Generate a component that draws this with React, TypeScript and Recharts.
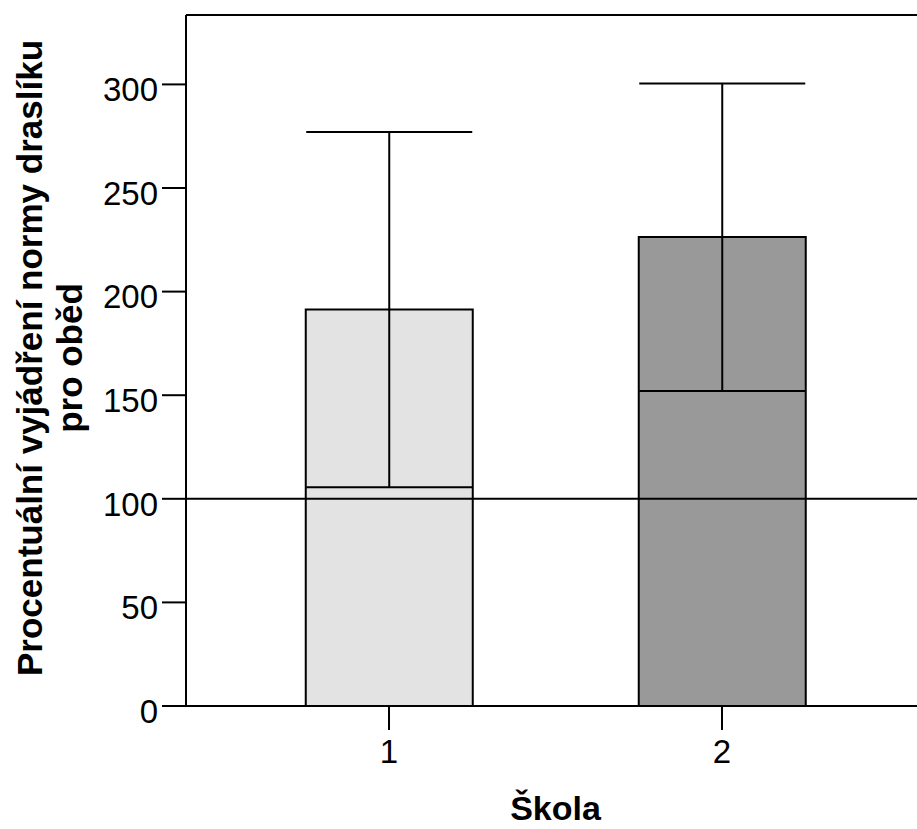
import React from 'react';
import {
  BarChart,
  Bar,
  XAxis,
  YAxis,
  ErrorBar,
  ReferenceLine,
  Cell,
  Label,
} from 'recharts';

// Values
const schools = ['1', '2'];
const means = [191.4, 226.4];
const ciLow = [105.6, 152];
const ciHigh = [277, 300.4];
const barColors = ['#e3e3e3', '#999999'];
const yTicks = [0, 50, 100, 150, 200, 250, 300];
const yMax = 333.5;
const normValue = 100;

const data = schools.map((school, i) => ({
  school,
  mean: means[i],
  err: [means[i] - ciLow[i], ciHigh[i] - means[i]],
}));

const FONT = '"Liberation Sans", Arial, Helvetica, sans-serif';

const YTitle = () => (
  <g transform="translate(0,358) rotate(-90)">
    <text
      x={0}
      y={42}
      textAnchor="middle"
      fontFamily={FONT}
      fontWeight="bold"
      fontSize={35}
      fill="#000"
    >
      Procentuální vyjádření normy draslíku
    </text>
    <text
      x={0}
      y={82}
      textAnchor="middle"
      fontFamily={FONT}
      fontWeight="bold"
      fontSize={35}
      fill="#000"
    >
      pro oběd
    </text>
  </g>
);

export default function App() {
  return (
    <div
      style={{
        position: 'fixed',
        left: 0,
        top: 0,
        width: 917,
        height: 829,
        overflow: 'hidden',
        background: '#fff',
      }}
    >
      <BarChart
        width={940}
        height={829}
        data={data}
        margin={{ top: 15, right: 15, bottom: 0, left: 0 }}
        barCategoryGap="25%"
      >
        <XAxis
          dataKey="school"
          height={123}
          padding={{ left: 36.5, right: 36.5 }}
          axisLine={{ stroke: '#000', strokeWidth: 2 }}
          tickLine={{ stroke: '#000', strokeWidth: 2 }}
          tickSize={24}
          tickMargin={10}
          tick={{ fontSize: 33, fill: '#000', fontFamily: FONT }}
        >
          <Label
            value="Škola"
            position="insideBottom"
            offset={9}
            style={{ fontSize: 34, fontWeight: 'bold', fill: '#000', fontFamily: FONT }}
          />
        </XAxis>
        <YAxis
          width={186}
          domain={[0, yMax]}
          ticks={yTicks}
          allowDataOverflow
          axisLine={{ stroke: '#000', strokeWidth: 2 }}
          tickLine={{ stroke: '#000', strokeWidth: 2 }}
          tickSize={24}
          tickMargin={4}
          tick={{ fontSize: 33, fill: '#000', fontFamily: FONT, dy: 5 }}
        >
          <Label content={<YTitle />} />
        </YAxis>
        <Bar dataKey="mean" stroke="#000" strokeWidth={2} isAnimationActive={false}>
          {data.map((d, i) => (
            <Cell key={d.school} fill={barColors[i]} />
          ))}
          <ErrorBar
            dataKey="err"
            width={83}
            stroke="#000"
            strokeWidth={2}
            direction="y"
            isAnimationActive={false}
          />
        </Bar>
        <ReferenceLine y={normValue} stroke="#000" strokeWidth={2} />
        <ReferenceLine y={yMax} stroke="#000" strokeWidth={2} />
      </BarChart>
    </div>
  );
}
